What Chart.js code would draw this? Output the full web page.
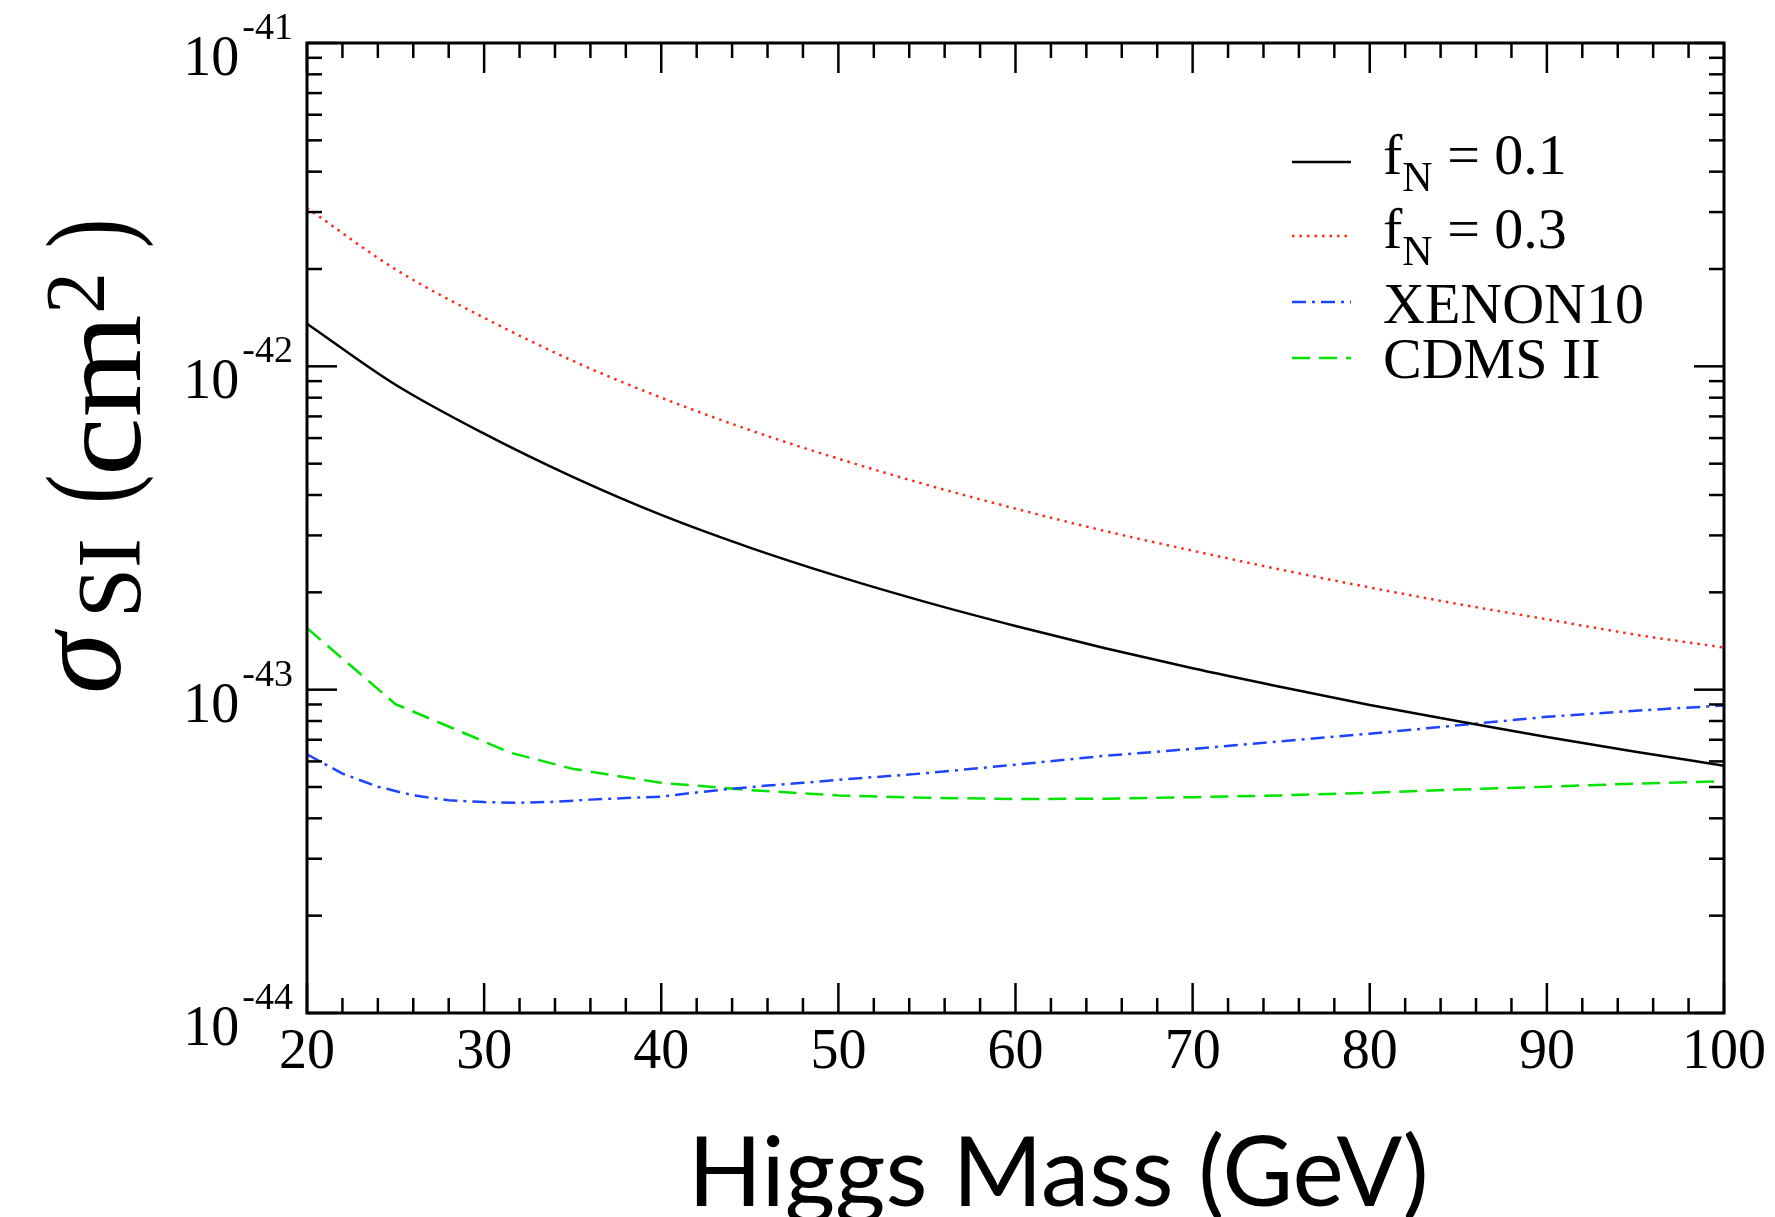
<!DOCTYPE html>
<html>
<head>
<meta charset="utf-8">
<script src="https://cdn.jsdelivr.net/npm/chart.js@4.4.1/dist/chart.umd.min.js"></script>
<style>
html,body{margin:0;padding:0;background:#fff;overflow:hidden}
canvas{display:block}
</style>
</head>
<body>
<canvas id="c" width="1775" height="1217"></canvas>
<script>
// ---------------- data ----------------
const massFN = [20,25,30,35,40,45,50,55,60,65,70,75,80,85,90,95,100];
const sigmaFN01 = [1.355e-42,8.77e-43,6.19e-43,4.55e-43,3.47e-43,2.75e-43,2.24e-43,1.862e-43,1.574e-43,1.346e-43,1.164e-43,1.019e-43,8.97e-44,7.98e-44,7.14e-44,6.43e-44,5.82e-44];
const sigmaFN03 = [3.09e-42,1.995e-42,1.413e-42,1.04e-42,8.0e-43,6.35e-43,5.18e-43,4.30e-43,3.63e-43,3.10e-43,2.69e-43,2.35e-43,2.07e-43,1.84e-43,1.65e-43,1.48e-43,1.35e-43];
const massXenon = [20,22,24,26,28,30,32,34,36,38,40,42,44,46,48,50,55,60,65,70,75,80,85,90,95,100];
const sigmaXenon = [6.31e-44,5.50e-44,5.01e-44,4.71e-44,4.55e-44,4.49e-44,4.47e-44,4.50e-44,4.57e-44,4.62e-44,4.67e-44,4.81e-44,4.94e-44,5.05e-44,5.15e-44,5.26e-44,5.52e-44,5.86e-44,6.24e-44,6.56e-44,6.92e-44,7.31e-44,7.76e-44,8.24e-44,8.61e-44,8.93e-44];
const massCdms = [20,25,31.5,35,40,45,50,55,60,65,70,75,80,85,90,95,100];
const sigmaCdms = [1.55e-43,9.02e-44,6.38e-44,5.69e-44,5.15e-44,4.89e-44,4.71e-44,4.63e-44,4.59e-44,4.60e-44,4.65e-44,4.71e-44,4.80e-44,4.91e-44,5.01e-44,5.12e-44,5.21e-44];
const seriesLabels = ['f_N = 0.1','f_N = 0.3','XENON10','CDMS II'];
const xTickLabels = [20,30,40,50,60,70,80,90,100];
const yTickExponents = [-44,-43,-42,-41];
const xAxisTitle = 'Higgs Mass (GeV)';

// ---------------- styles ----------------
const SERIF = "'Liberation Serif','Times New Roman',serif";
const styles = [
  {color:'#000000', dash:[], width:2.5, smooth:true},
  {color:'#ff2a1a', dash:[2.5,5], width:2.5, smooth:true},
  {color:'#1f44ff', dash:[14,6,3,6], width:2.5, smooth:false},
  {color:'#00e400', dash:[18,9], width:2.5, smooth:false}
];
const legendLayout = {x0:1292, x1:1351, textX:1383, font:58, subFont:42, subDrop:17,
  rows:[{lineY:162, baseY:174},{lineY:236, baseY:248},{lineY:302, baseY:323},{lineY:358, baseY:378}]};

function pts(xs, ys){ return xs.map((m,i)=>({x:m, y:ys[i]})); }
const seriesData = [pts(massFN,sigmaFN01), pts(massFN,sigmaFN03), pts(massXenon,sigmaXenon), pts(massCdms,sigmaCdms)];

const datasets = seriesData.map((d,i)=>({
  label: seriesLabels[i],
  data: d,
  borderColor: styles[i].color,
  borderWidth: styles[i].width,
  borderDash: styles[i].dash,
  pointRadius: 0,
  fill: false,
  tension: 0,
  cubicInterpolationMode: styles[i].smooth ? 'monotone' : 'default'
}));

function seg(ctx,x1,y1,x2,y2){ctx.beginPath();ctx.moveTo(x1,y1);ctx.lineTo(x2,y2);ctx.stroke();}
function stretchText(ctx, txt, x, y, sx){ ctx.save(); ctx.translate(x, y); ctx.scale(sx, 1); ctx.fillText(txt, 0, 0); ctx.restore(); }

const decor = {
  id:'decor',
  afterDraw(chart){
    const ctx = chart.ctx, a = chart.chartArea, xs = chart.scales.x, ys = chart.scales.y;
    ctx.save();
    ctx.strokeStyle = '#000'; ctx.fillStyle = '#000';
    ctx.setLineDash([]);
    // frame
    ctx.lineWidth = 3;
    ctx.strokeRect(a.left, a.top, a.right-a.left, a.bottom-a.top);
    ctx.lineWidth = 2.5;
    // x ticks
    const xMin = xTickLabels[0], xMax = xTickLabels[xTickLabels.length-1];
    for (let v = xMin; v <= xMax; v += 2) {
      const px = xs.getPixelForValue(v);
      const L = xTickLabels.includes(v) ? 30 : 15;
      seg(ctx, px, a.bottom, px, a.bottom - L);
      seg(ctx, px, a.top, px, a.top + L);
    }
    // y ticks
    for (let k = 0; k < yTickExponents.length; k++) {
      const e = yTickExponents[k];
      const py = ys.getPixelForValue(Math.pow(10, e));
      seg(ctx, a.left, py, a.left + 30, py);
      seg(ctx, a.right, py, a.right - 30, py);
      if (k < yTickExponents.length - 1) {
        for (let m = 2; m <= 9; m++) {
          const pm = ys.getPixelForValue(m * Math.pow(10, e));
          seg(ctx, a.left, pm, a.left + 15, pm);
          seg(ctx, a.right, pm, a.right - 15, pm);
        }
      }
    }
    // x labels
    ctx.textAlign = 'center'; ctx.textBaseline = 'alphabetic';
    ctx.font = '56px ' + SERIF;
    for (const v of xTickLabels) {
      ctx.fillText(String(v), xs.getPixelForValue(v), a.bottom + 55);
    }
    // y labels 10^e
    ctx.textAlign = 'left';
    for (const e of yTickExponents) {
      const py = ys.getPixelForValue(Math.pow(10, e));
      const sup = String(e);
      ctx.font = '38px ' + SERIF;
      const sw = ctx.measureText(sup).width;
      const supX = a.left - 14 - sw;
      ctx.fillText(sup, supX, py - 4);
      ctx.font = '56px ' + SERIF;
      const bw = ctx.measureText('10').width;
      ctx.fillText('10', supX - 3 - bw, py + 32);
    }
    // legend
    const L = legendLayout;
    seriesLabels.forEach((lab, i) => {
      const r = L.rows[i];
      ctx.strokeStyle = styles[i].color; ctx.lineWidth = styles[i].width;
      ctx.setLineDash(styles[i].dash);
      seg(ctx, L.x0, r.lineY, L.x1, r.lineY);
      ctx.setLineDash([]);
      ctx.fillStyle = '#000';
      let x = L.textX;
      const parts = lab.split('_');
      ctx.font = L.font + 'px ' + SERIF;
      if (parts.length === 2) {
        ctx.fillText(parts[0], x, r.baseY); x += ctx.measureText(parts[0]).width;
        const subChar = parts[1].charAt(0), rest = parts[1].slice(1);
        ctx.font = L.subFont + 'px ' + SERIF;
        ctx.fillText(subChar, x, r.baseY + L.subDrop); x += ctx.measureText(subChar).width;
        ctx.font = L.font + 'px ' + SERIF;
        ctx.fillText(rest, x, r.baseY);
      } else {
        ctx.fillText(lab, x, r.baseY);
      }
    });
    // x axis title (sans)
    ctx.fillStyle = '#000';
    ctx.font = '100px Lato';
    const tw = ctx.measureText(xAxisTitle).width;
    const fs = 100 * 741 / tw;
    ctx.font = fs.toFixed(1) + 'px Lato';
    ctx.textAlign = 'left';
    ctx.fillText(xAxisTitle, 688, 1206);
    // y axis title: sigma_SI (cm^2), rotated (text runs upward)
    ctx.save();
    ctx.translate(140, 694);
    ctx.rotate(-Math.PI/2);
    ctx.textAlign = 'left';
    ctx.font = 'italic 124px ' + SERIF;
    ctx.fillText('σ', 0, -20);
    ctx.font = '90px ' + SERIF;
    ctx.fillText('SI', 76, 0);
    ctx.font = '118px ' + SERIF;
    stretchText(ctx, '(', 190, -12, 0.75);
    stretchText(ctx, 'cm', 218, 0, 1.12);
    ctx.font = '84px ' + SERIF;
    ctx.fillText('2', 380, -36);
    ctx.font = '118px ' + SERIF;
    stretchText(ctx, ')', 446, -12, 0.75);
    ctx.restore();
    ctx.restore();
  }
};

new Chart(document.getElementById('c').getContext('2d'), {
  type: 'line',
  data: { datasets },
  options: {
    responsive: false,
    animation: false,
    devicePixelRatio: 1,
    events: [],
    layout: { padding: { left: 307, right: 51, top: 43, bottom: 204 } },
    plugins: { legend: { display: false }, tooltip: { enabled: false } },
    scales: {
      x: { type: 'linear', min: 20, max: 100, display: false },
      y: { type: 'logarithmic', min: 1e-44, max: 1e-41, display: false }
    }
  },
  plugins: [decor]
});
</script>
</body>
</html>
